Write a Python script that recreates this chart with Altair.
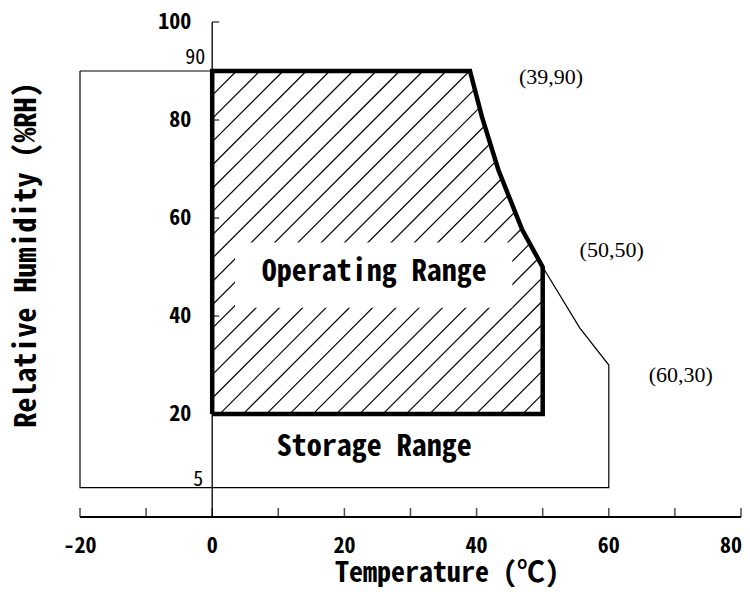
import altair as alt
import pandas as pd

# ---------------- data ----------------
# Storage range outline (temperature in degC, relative humidity in %RH)
storage_t = [-20, 39, 40.8, 43.3, 46.9, 50, 55.6, 60, 60, -20, -20]
storage_h = [90, 90, 80.7, 69.8, 57.6, 50, 37.6, 30, 5, 5, 90]

# Operating range outline
oper_t = [0, 0, 39, 40.8, 43.3, 46.9, 50, 50, 0]
oper_h = [20, 90, 90, 80.7, 69.8, 57.6, 50, 20, 20]

# Axis ticks and labels
x_tick_vals = [-20, -10, 0, 10, 20, 30, 40, 50, 60, 70, 80]
x_label_vals = [-20, 0, 20, 40, 60, 80]
y_label_vals = [20, 40, 60, 80, 100]
edge_labels = ["90", "5"]
edge_vals = [90, 5]

# Corner annotations
corner_text = ["(39,90)", "(50,50)", "(60,30)"]
corner_t = [39, 50, 60]
corner_h = [90, 50, 30]

range_names = ["Operating Range", "Storage Range"]

# ---------------- layout / style ----------------
W, H = 661, 495
X_DOM = [-20, 80]
Y_DOM = [-1, 100]
GOTH = "Noto Sans Mono CJK JP, DejaVu Sans Mono, monospace"
SERIF = "Liberation Serif, Times New Roman, serif"

xs = alt.Scale(domain=X_DOM, nice=False, zero=False)
ys = alt.Scale(domain=Y_DOM, nice=False, zero=False)


def X(f):
    return alt.X(f"{f}:Q", scale=xs, axis=None)


def Y(f):
    return alt.Y(f"{f}:Q", scale=ys, axis=None)


# storage outline
storage_df = pd.DataFrame({"t": storage_t, "h": storage_h, "i": range(len(storage_t))})
storage_line = alt.Chart(storage_df).mark_line(color="black", strokeWidth=1.2).encode(
    x=X("t"), y=Y("h"), order="i:Q"
)

# hatch pattern (45 degree lines in screen space) clipped to the operating polygon
kx = W / (X_DOM[1] - X_DOM[0])
ky = H / (Y_DOM[1] - Y_DOM[0])
m = ky / kx
gap = 23.3 / kx
c0 = 3.68
poly = list(zip(oper_t, oper_h))
segs = []
for k in range(-40, 40):
    c = c0 + k * gap
    f = [px - c - m * (py - 90) for px, py in poly]
    pts = []
    for i in range(len(poly) - 1):
        (x1, y1), (x2, y2) = poly[i], poly[i + 1]
        f1, f2 = f[i], f[i + 1]
        if (f1 < 0) != (f2 < 0):
            tt = f1 / (f1 - f2)
            pts.append((x1 + tt * (x2 - x1), y1 + tt * (y2 - y1)))
    pts.sort(key=lambda p: p[1])
    for a, b in zip(pts[0::2], pts[1::2]):
        segs.append({"t": a[0], "h": a[1], "t2": b[0], "h2": b[1]})
hatch = alt.Chart(pd.DataFrame(segs)).mark_rule(color="black", strokeWidth=1.2).encode(
    x=X("t"), y=Y("h"), x2="t2:Q", y2="h2:Q"
)

# white box behind the "Operating Range" label
label_box = pd.DataFrame({"t": [3.45], "t2": [45.4], "h": [41.7], "h2": [55.0]})
box = alt.Chart(label_box).mark_rect(fill="white").encode(
    x=X("t"), x2="t2:Q", y=Y("h"), y2="h2:Q"
)

# operating outline (thick)
oper_df = pd.DataFrame({"t": oper_t, "h": oper_h, "i": range(len(oper_t))})
oper_line = alt.Chart(oper_df).mark_line(color="black", strokeWidth=4.5, strokeJoin="miter").encode(
    x=X("t"), y=Y("h"), order="i:Q"
)

# axes drawn by hand (y axis sits at T = 0)
xaxis = alt.Chart(pd.DataFrame({"t": [X_DOM[0]], "t2": [X_DOM[1]], "h": [Y_DOM[0]]})).mark_rule(
    color="black", strokeWidth=2
).encode(x=X("t"), x2="t2:Q", y=Y("h"))
yaxis = alt.Chart(pd.DataFrame({"t": [0], "h": [Y_DOM[0]], "h2": [Y_DOM[1]]})).mark_rule(
    color="black", strokeWidth=1.3
).encode(x=X("t"), y=Y("h"), y2="h2:Q")

xt_df = pd.DataFrame({"t": x_tick_vals, "h": [Y_DOM[0]] * len(x_tick_vals)})
xticks = alt.Chart(xt_df).mark_tick(
    orient="vertical", size=9, thickness=1.5, yOffset=-4.5, color="black"
).encode(x=X("t"), y=Y("h"))

# x tick labels (the last one is right-aligned so it stays inside the page)
xl_df = pd.DataFrame({"t": x_label_vals[:-1], "h": [Y_DOM[0]] * (len(x_label_vals) - 1),
                      "lab": [str(v) for v in x_label_vals[:-1]]})
xlabels = alt.Chart(xl_df).mark_text(
    font=GOTH, fontWeight="bold", fontSize=22, align="center", baseline="middle", dy=29, color="black"
).encode(x=X("t"), y=Y("h"), text="lab:N")
xl_last = pd.DataFrame({"t": [x_label_vals[-1]], "h": [Y_DOM[0]], "lab": [str(x_label_vals[-1])]})
xlabel_last = alt.Chart(xl_last).mark_text(
    font=GOTH, fontWeight="bold", fontSize=22, align="right", baseline="middle", dy=29, dx=1, color="black"
).encode(x=X("t"), y=Y("h"), text="lab:N")

yt_df = pd.DataFrame({"t": [0] * len(y_label_vals), "h": y_label_vals})
yticks = alt.Chart(yt_df).mark_tick(
    orient="horizontal", size=7, thickness=1.5, xOffset=3.5, color="black"
).encode(x=X("t"), y=Y("h"))

yl_df = pd.DataFrame({"t": [0] * len(y_label_vals), "h": y_label_vals,
                      "lab": [str(v) for v in y_label_vals]})
ylabels = alt.Chart(yl_df).mark_text(
    font=GOTH, fontWeight="bold", fontSize=22, align="right", baseline="middle", dx=-21, color="black"
).encode(x=X("t"), y=Y("h"), text="lab:N")

edge_layers = []
edge_offsets = [(-7, -13.5), (-9, -8)]
for lab, v, (ddx, ddy) in zip(edge_labels, edge_vals, edge_offsets):
    edge_layers.append(
        alt.Chart(pd.DataFrame({"t": [0], "h": [v], "lab": [lab]})).mark_text(
            font=GOTH, fontSize=20, align="right", baseline="middle", dx=ddx, dy=ddy, color="black"
        ).encode(x=X("t"), y=Y("h"), text="lab:N")
    )

corner_layers = []
corner_offsets = [(81, 6), (69, -17), (72, 10)]
for lab, tv, hv, (ddx, ddy) in zip(corner_text, corner_t, corner_h, corner_offsets):
    corner_layers.append(
        alt.Chart(pd.DataFrame({"t": [tv], "h": [hv], "lab": [lab]})).mark_text(
            font=SERIF, fontSize=22, align="center", baseline="middle", dx=ddx, dy=ddy, color="black"
        ).encode(x=X("t"), y=Y("h"), text="lab:N")
    )

range_df = pd.DataFrame({"t": [24.5, 24.5], "h": [49.0, 13.3], "lab": range_names})
range_text = alt.Chart(range_df).mark_text(
    font=GOTH, fontWeight="bold", fontSize=30, align="center", baseline="middle", color="black"
).encode(x=X("t"), y=Y("h"), text="lab:N")

xtitle = alt.Chart(pd.DataFrame({"lab": ["Temperature (℃)"]})).mark_text(
    font=GOTH, fontWeight="bold", fontSize=28, align="center", baseline="middle", color="black"
).encode(x=alt.value(367), y=alt.value(552), text="lab:N")

ytitle = alt.Chart(pd.DataFrame({"lab": ["Relative Humidity (%RH)"]})).mark_text(
    font=GOTH, fontWeight="bold", fontSize=30, align="center", baseline="middle", angle=270, color="black"
).encode(x=alt.value(-53), y=alt.value(233), text="lab:N")

chart = alt.layer(
    storage_line, hatch, box, oper_line, xaxis, yaxis, xticks, yticks,
    xlabels, xlabel_last, ylabels, *edge_layers, *corner_layers, range_text, xtitle, ytitle
).properties(
    width=W, height=H,
    autosize=alt.AutoSizeParams(type="none"),
    padding={"left": 72, "top": 14, "right": 1, "bottom": 70},
).configure_view(stroke=None)

chart.save("out.html", embed_options={"renderer": "svg", "actions": False})
